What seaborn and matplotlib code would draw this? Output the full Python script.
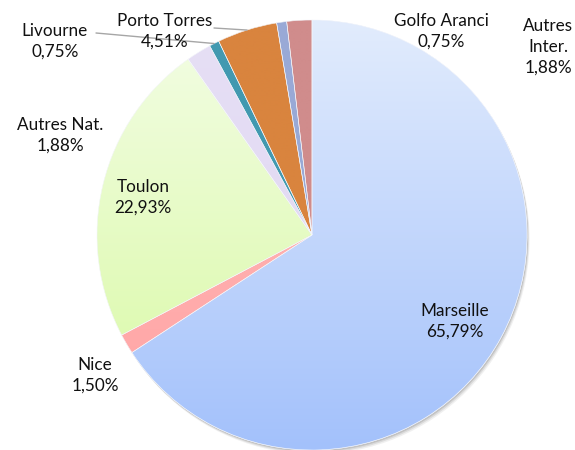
import numpy as np
import matplotlib
matplotlib.use("Agg")
import matplotlib.pyplot as plt
import seaborn as sns
from matplotlib.colors import LinearSegmentedColormap

sns.set_theme(style="white")
plt.rcParams['font.family'] = ['Lato', 'DejaVu Sans']

# ---- data ----
ports = ["Marseille", "Nice", "Toulon", "Autres Nat.", "Livourne",
         "Porto Torres", "Golfo Aranci", "Autres Inter."]
shares = [65.79, 1.50, 22.93, 1.88, 0.75, 4.51, 0.75, 1.88]
label_texts = ["Marseille\n65,79%", "Nice\n1,50%", "Toulon\n22,93%",
               "Autres Nat.\n1,88%", "Livourne\n0,75%", "Porto Torres\n4,51%",
               "Golfo Aranci\n0,75%", "Autres\nInter.\n1,88%"]

# ---- styles ----
top_colors = ["#e2ecfd", "#ffbcbc", "#f3fde5", "#e6dff5", "#4299b0",
              "#d9843e", "#9aaad6", "#d08c8c"]
bot_colors = ["#a3c1fb", "#ffa3a3", "#d8f9a2", "#e0d6f2", "#4299b0",
              "#d9843e", "#96a8d6", "#d08c8c"]

W, H, DPI = 575, 450, 100
CX, CY, R = 312, 235, 215  # pixel centre / radius

# label centres in pixels (layout)
label_px = [(455, 321), (95, 375), (143, 197), (60, 135), (55, 41),
            (165, 31), (441, 31), (548, 47)]
leaders = {4: (96, 33), 5: (214, 28)}

fig = plt.figure(figsize=(W / DPI, H / DPI), dpi=DPI)
ax = fig.add_axes([0, 0, 1, 1])

def px2d(px, py):
    return (px - CX) / R, (CY - py) / R

# subtle shadow
for off, a in [(0.020, 0.12), (0.014, 0.2), (0.008, 0.3)]:
    ax.add_patch(plt.Circle((off * 0.6, -off), 1.0, color="#8a8a8a",
                            alpha=a, zorder=0, lw=0))

wedges, _ = ax.pie(shares, startangle=90, counterclock=False, radius=1,
                   colors=bot_colors,
                   wedgeprops=dict(edgecolor="white", linewidth=0.4))

grad = np.linspace(0, 1, 256).reshape(-1, 1)
for w, c1, c2 in zip(wedges, top_colors, bot_colors):
    w.set_zorder(1)
    cmap = LinearSegmentedColormap.from_list("g", [c1, c2])
    im = ax.imshow(grad, cmap=cmap, extent=(-1, 1, -1, 1), origin="upper",
                   aspect="auto", zorder=1.5, interpolation="bilinear")
    im.set_clip_path(w)
    w2 = matplotlib.patches.Wedge(w.center, w.r, w.theta1, w.theta2,
                                  facecolor="none", edgecolor="#f4f6fb",
                                  linewidth=0.4, zorder=2)
    ax.add_patch(w2)

for i, (txt, (px, py)) in enumerate(zip(label_texts, label_px)):
    x, y = px2d(px, py)
    ax.text(x, y, txt, ha="center", va="center", fontsize=12.3,
            color="#111111", linespacing=1.35, zorder=5)

# leader lines for Livourne and Porto Torres, pointing to wedge mid-angle on rim
for idx, (sx, sy) in leaders.items():
    w = wedges[idx]
    ang = np.deg2rad((w.theta1 + w.theta2) / 2)
    ex, ey = np.cos(ang), np.sin(ang)
    x0, y0 = px2d(sx, sy)
    ax.plot([x0, ex], [y0, ey], color="#a6a6a6", lw=1.0, zorder=4)

ax.set_xlim(-CX / R, (W - CX) / R)
ax.set_ylim((CY - H) / R, CY / R)
ax.set_aspect("auto")
ax.axis("off")

fig.savefig("out.png", dpi=DPI)
